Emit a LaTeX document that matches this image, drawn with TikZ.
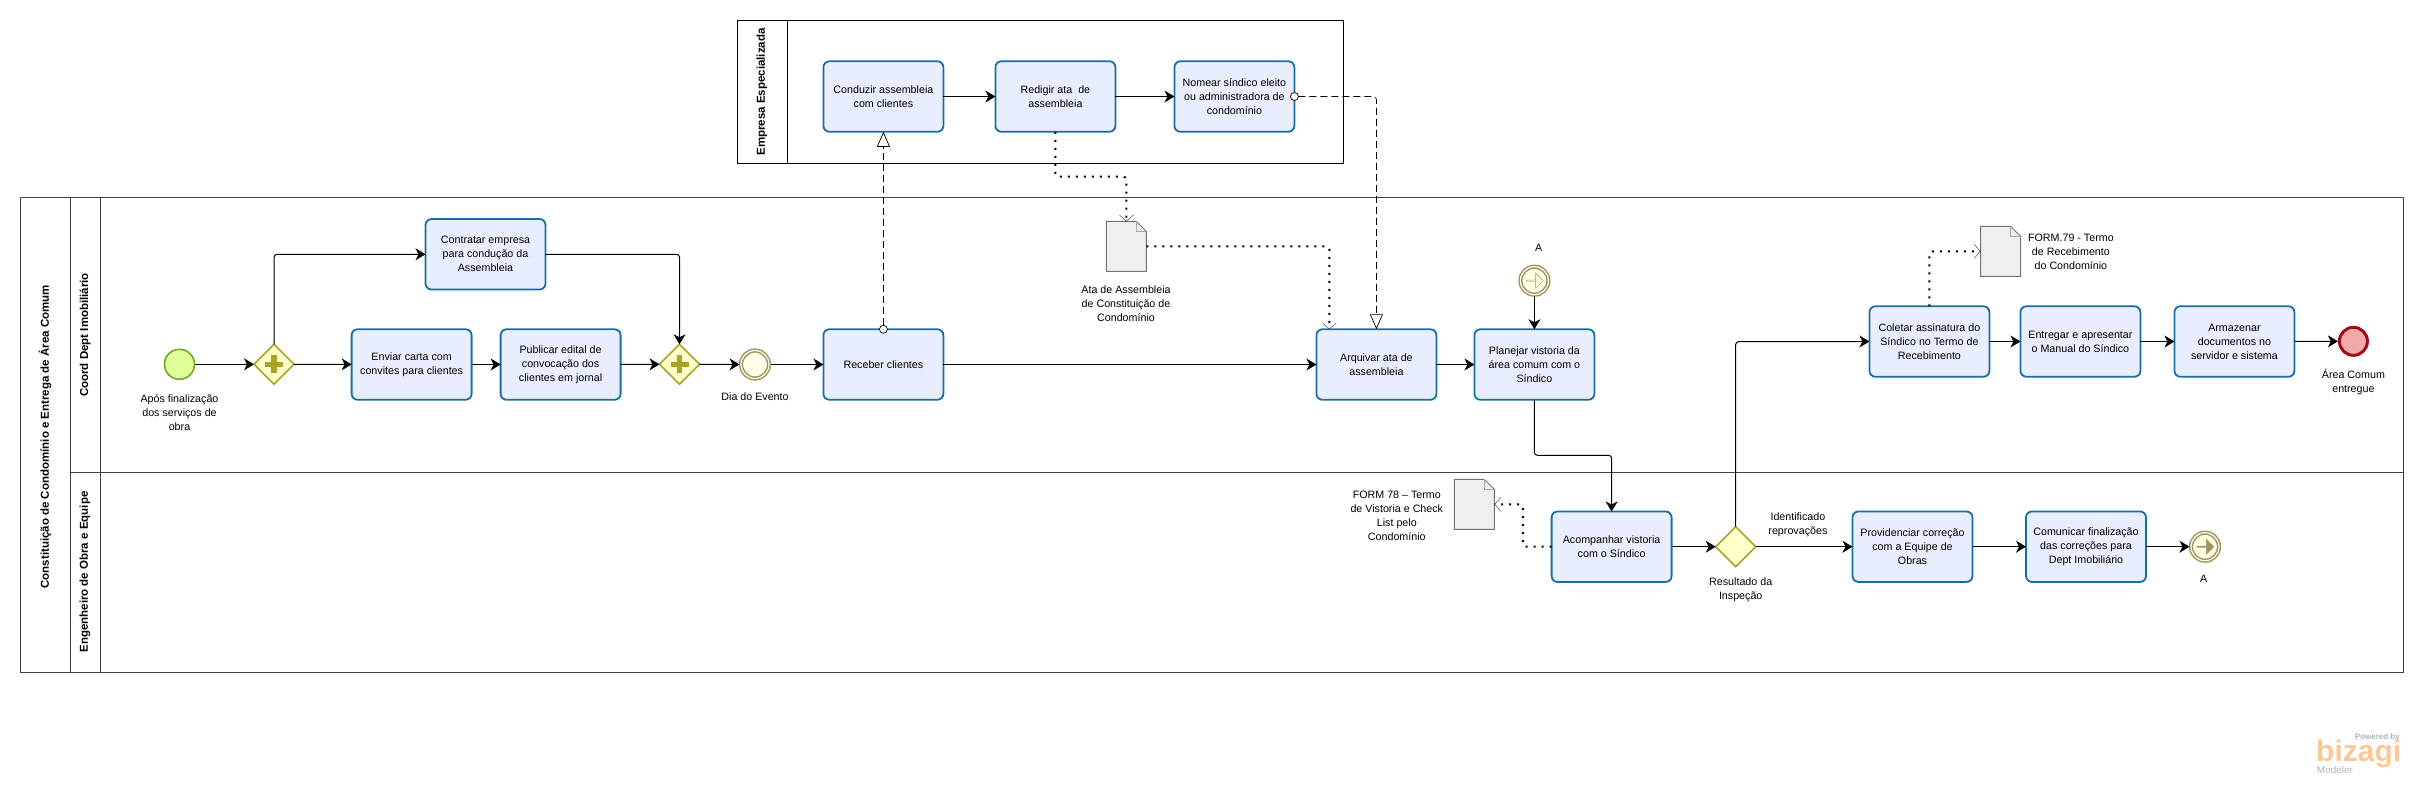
\documentclass[tikz,border=0pt]{standalone}
\usepackage{fontspec}
\setmainfont{Liberation Sans}
\definecolor{mytaskfill}{RGB}{233,238,255}
\definecolor{mytaskline}{RGB}{24,110,160}
\definecolor{mygatefill}{RGB}{255,255,204}
\definecolor{mygateline}{RGB}{165,165,40}
\definecolor{mystartfill}{RGB}{224,255,150}
\definecolor{mystartline}{RGB}{105,170,40}
\definecolor{myendfill}{RGB}{240,170,170}
\definecolor{myendline}{RGB}{160,10,25}
\definecolor{myeventline}{RGB}{160,150,90}
\definecolor{mydocfill}{RGB}{239,239,239}
\definecolor{mylogo}{RGB}{250,200,150}
\definecolor{mylogotext}{RGB}{170,180,190}
\usetikzlibrary{calc,arrows.meta,positioning,shapes.geometric,shapes.arrows}

\begin{document}
\begin{tikzpicture}[
  x=1pt,
  y=-1pt,
  font=\fontsize{10.7}{14}\selectfont,
  mytask/.style={
    draw=mytaskline,
    fill=mytaskfill,
    line width=1.8pt,
    rounded corners=6pt,
    minimum width=120pt,
    minimum height=70.5pt,
    inner sep=0pt,
    outer sep=0pt,
    align=center
    },
  mygate/.style={
    draw=mygateline,
    fill=mygatefill,
    line width=1.6pt,
    diamond,
    aspect=1,
    minimum size=40pt,
    inner sep=0pt,
    outer sep=0pt
    },
  myevent/.style={
    draw=myeventline,
    fill=#1,
    double=white,
    double distance=1.2pt,
    line width=1.5pt,
    circle,
    minimum size=28pt,
    inner sep=0pt,
    outer sep=1.5pt
    },
  myarrow/.style={
    single arrow,
    draw=myeventline,
    fill=#1,
    minimum height=17pt,
    minimum width=15pt,
    single arrow head extend=2.5pt,
    inner sep=0pt
    },
  mydoc/.style={
    minimum width=40pt,
    minimum height=50pt,
    inner sep=0pt,
    outer sep=0pt
    },
  mylabel/.style={align=center,inner sep=0pt},
  myhead/.style={rotate=90,font=\fontsize{11.5}{14}\selectfont\bfseries,inner sep=0pt},
  myflow/.style={
    draw,
    line width=1pt,
    rounded corners=3pt,
    -{Stealth[length=10pt,width=12pt,inset=3pt]}
    },
  mydata/.style={
    draw,
    line width=2pt,
    rounded corners=3pt,
    dash pattern=on 2pt off 6pt,
    -{Straight Barb[length=6pt,width=14pt,line width=.5pt,color=black!70]}
    },
  mymsg/.style={
    draw,
    line width=.7pt,
    rounded corners=3pt,
    dash pattern=on 7pt off 4pt,
    -{Triangle[open,length=15pt,width=13pt,line width=.7pt,fill=white]}
    },
  mydot/.style={draw,circle,fill=white,line width=.7pt,minimum size=8pt,inner sep=0pt,outer sep=0pt}
]
\useasboundingbox (0,0) rectangle (2423,785);

% pools and lanes
\draw[line width=1pt] (737.4,20.3) rectangle (1343.7,163.3);
\draw[line width=1pt] (787.4,20.3) -- (787.4,163.3);
\draw[line width=1pt,black!75] (20.5,197.3) rectangle (2403.5,672.3);
\draw[line width=1pt,black!75] (70.3,197.3) -- (70.3,672.3);
\draw[line width=1pt,black!75] (100.4,197.3) -- (100.4,672.3);
\draw[line width=1pt,black!75] (70.3,472.3) -- (2403.5,472.3);

\node[myhead] (headempresa) at (762,92) {Empresa Especializada};
\node[myhead] (headpool) at (45,436.7) {Constituição de Condomínio e Entrega de Área Comum};
\node[myhead] (headcoord) at (85,335) {Coord Dept Imobiliário};
\node[myhead] (headeng) at (85,572) {Engenheiro de Obra e Equipe};

% empresa especializada
\node[mytask] (conduzir) at (883.4,96.5) {Conduzir assembleia\\com clientes};
\node[mytask, right=52pt of conduzir] (redigir) {Redigir ata\ \ de\\assembleia};
\node[mytask, right=59pt of redigir] (nomear) {Nomear síndico eleito\\ou administradora de\\condomínio};

% coord dept
\node[circle,draw=mystartline,fill=mystartfill,line width=1.6pt,minimum size=30pt,inner sep=0pt,outer sep=.8pt] (inicio) at (179.5,364.3) {};
\node[mygate] (gatea) at (274,364.3) {};
\node[mytask] (contratar) at (485.5,254.3) {Contratar empresa\\para condução da\\Assembleia};
\node[mytask] (enviar) at (411.6,364.5) {Enviar carta com\\convites para clientes};
\node[mytask, right=29pt of enviar] (publicar) {Publicar edital de\\convocação dos\\clientes em jornal};
\node[mygate] (gateb) at (679.5,364.3) {};
\node[myevent=white!90!yellow] (dia) at (755,364.5) {};
\node[mytask] (receber) at (883.4,364.5) {Receber clientes};
\node[mytask] (arquivar) at (1376.4,364.5) {Arquivar ata de\\assembleia};
\node[mytask, right=38pt of arquivar] (planejar) {Planejar vistoria da\\área comum com o\\Síndico};
\node[myevent=white!90!yellow] (linkin) at (planejar |- 0,280.7) {};
\node[myarrow=white!90!yellow] (linkinarrow) at (linkin) {};
\node[mytask] (coletar) at (1929.4,341.5) {Coletar assinatura do\\Síndico no Termo de\\Recebimento};
\node[mytask, right=31pt of coletar] (entregar) {Entregar e apresentar\\o Manual do Síndico};
\node[mytask, right=34pt of entregar] (armazenar) {Armazenar\\documentos no\\servidor e sistema};
\node[circle,draw=myendline,fill=myendfill,line width=3pt,minimum size=28pt,inner sep=0pt,outer sep=1.5pt] (fim) at (2353.4,341.3) {};

% engenheiro
\node[mytask] (acompanhar) at (1611.6,546.7) {Acompanhar vistoria\\com o Síndico};
\node[mygate] (gatec) at (1735.7,546.7) {};
\node[mytask] (providenciar) at (1912.5,546.7) {Providenciar correção\\com a Equipe de\\Obras};
\node[mytask, right=53.5pt of providenciar] (comunicar) {Comunicar finalização\\das correções para\\Dept Imobiliário};
\node[myevent=white!90!yellow] (linkout) at (2205,546.7) {};
\node[myarrow=myeventline] (linkoutarrow) at (linkout) {};

% documents
\node[mydoc] (ata) at (1126.4,246.4) {};
\node[mydoc] (formb) at (1474.4,504.3) {};
\node[mydoc] (formc) at (2000.6,251.3) {};
\foreach \Doc in {ata, formb, formc}
{
  \fill[mydocfill] (\Doc.north west) -- ($(\Doc.north east)+(-10,0)$) -- ($(\Doc.north east)+(0,10)$) -- (\Doc.south east) -- (\Doc.south west) -- cycle;
  \draw[black!55,line width=.9pt] (\Doc.north west) -- ($(\Doc.north east)+(-10,0)$) -- ($(\Doc.north east)+(0,10)$) -- (\Doc.south east) -- (\Doc.south west) -- cycle;
  \draw[black!35,line width=.6pt] ($(\Doc.north east)+(-10,0)$) -- ($(\Doc.north east)+(-10,10)$) -- ($(\Doc.north east)+(0,10)$);
}

% plus signs
\foreach \Gate in {gatea, gateb}
{
  \draw[mygateline,line width=5.5pt] ($(\Gate)+(-9,0)$) -- ($(\Gate)+(9,0)$);
  \draw[mygateline,line width=5.5pt] ($(\Gate)+(0,-9)$) -- ($(\Gate)+(0,9)$);
}

% labels
\node[mylabel] (lblinicio) at (179.5,412.3) {Após finalização\\dos serviços de\\obra};
\node[mylabel] (lbldia) at (755,397) {Dia do Evento};
\node[mylabel] (lblata) at (1126,304) {Ata de Assembleia\\de Constituição de\\Condomínio};
\node[mylabel] (lbllinkin) at (1538.6,248.3) {A};
\node[mylabel] (lblformb) at (1396.8,516) {FORM 78 – Termo\\de Vistoria e Check\\List pelo\\Condomínio};
\node[mylabel] (lblformc) at (2070.9,252) {FORM.79 - Termo\\de Recebimento\\do Condomínio};
\node[mylabel] (lblgatec) at (1740.7,589.3) {Resultado da\\Inspeção};
\node[mylabel] (lblreprov) at (1797.9,524.3) {Identificado\\reprovações};
\node[mylabel] (lblfim) at (2353.4,382.3) {Área Comum\\entregue};
\node[mylabel] (lbllinkout) at (2203.6,579) {A};

% sequence flows
\path[myflow] (conduzir) -- (redigir);
\path[myflow] (redigir) -- (nomear);
\path[myflow] (inicio) -- (gatea);
\path[myflow] (gatea) -- (enviar);
\path[myflow] (gatea.north) |- (contratar.west);
\path[myflow] (contratar.east) -| (gateb.north);
\path[myflow] (enviar) -- (publicar);
\path[myflow] (publicar) -- (gateb);
\path[myflow] (gateb) -- (dia);
\path[myflow] (dia) -- (receber);
\path[myflow] (receber) -- (arquivar);
\path[myflow] (arquivar) -- (planejar);
\path[myflow] (linkin) -- (planejar);
\coordinate (bendacomp) at (acompanhar |- 0,455.3);
\path[myflow] (planejar.south) |- (bendacomp) -- (acompanhar.north);
\path[myflow] (acompanhar) -- (gatec);
\path[myflow] (gatec) -- (providenciar);
\path[myflow] (gatec.north) |- (coletar.west);
\path[myflow] (coletar) -- (entregar);
\path[myflow] (entregar) -- (armazenar);
\path[myflow] (armazenar) -- (fim);
\path[myflow] (providenciar) -- (comunicar);
\path[myflow] (comunicar) -- (linkout);

% data associations
\coordinate (bendata) at (ata |- 0,176.7);
\path[mydata] (redigir.south) |- (bendata) -- (ata.north);
\coordinate (arquivardata) at (1329.4,329.3);
\path[mydata] (ata.east) -| (arquivardata);
\coordinate (bendformb) at (1522.9,504.3);
\path[mydata] (acompanhar.west) -| (bendformb) -- (formb.east);
\path[mydata] (coletar.north) |- (formc.west);

% messages
\node[mydot] (dotreceber) at (receber.north) {};
\node[mydot] (dotnomear) at (nomear.east) {};
\path[mymsg] (dotreceber) -- (conduzir.south);
\path[mymsg] (dotnomear.east) -| (arquivar.north);

% logo
\node[anchor=east,inner sep=0pt,font=\fontsize{8}{9}\selectfont\bfseries,text=mylogotext] (lblpowered) at (2400,737.5) {Powered by};
\node[anchor=west,inner sep=0pt,font=\fontsize{30}{30}\selectfont\bfseries,text=mylogo] (lbllogo) at (2316,754) {bizagi};
\node[anchor=west,inner sep=0pt,font=\fontsize{10}{10}\selectfont,text=mylogotext] (lblmodeler) at (2316.7,770) {Modeler};
\end{tikzpicture}
\end{document}
